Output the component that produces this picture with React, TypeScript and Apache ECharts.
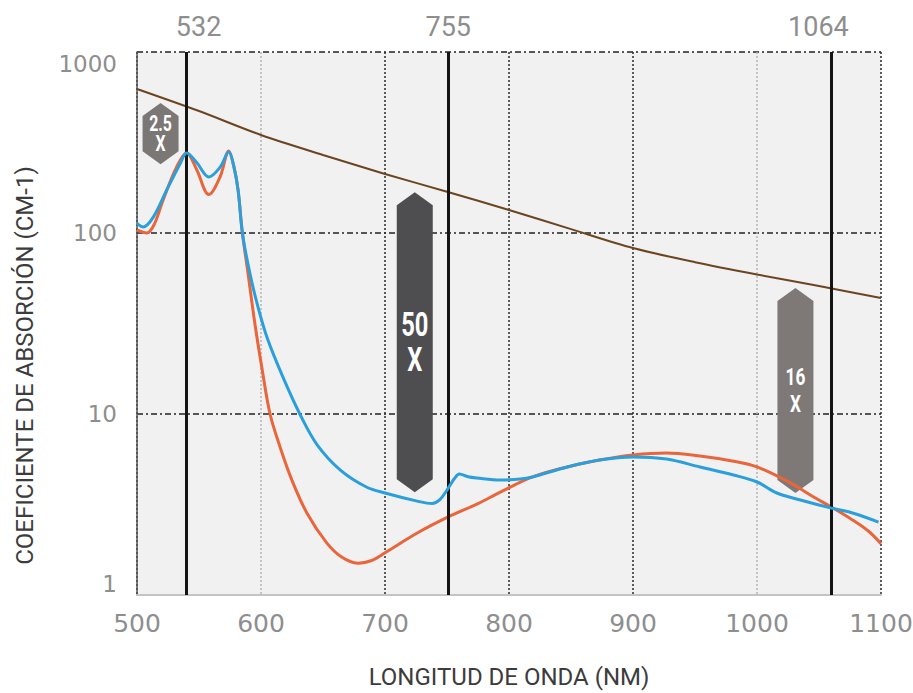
import React, { useEffect, useRef } from "react";
import * as echarts from "echarts";

// ---- data ----
const X_TICKS = [500, 600, 700, 800, 900, 1000, 1100];
const Y_TICKS = [1, 10, 100, 1000];

const ORANGE_NM = [500, 508, 514, 521, 532, 540, 548, 558, 567, 574, 578, 581.5, 585, 589.5, 595, 601, 607.3, 615.3, 625, 637, 653, 665, 678, 690, 700, 726, 751, 775, 793, 819, 847, 873, 900, 927, 954, 980, 1000, 1027, 1045, 1060, 1077, 1090, 1100];
const ORANGE_VAL = [104, 100, 112, 152, 232, 277, 225, 163, 204, 284, 235, 173, 100, 60, 31.8, 17.5, 10.0, 6.6, 4.3, 2.84, 1.94, 1.62, 1.5, 1.56, 1.71, 2.2, 2.7, 3.2, 3.7, 4.49, 5.1, 5.57, 5.94, 6.09, 5.86, 5.5, 5.1, 4.16, 3.5, 3.06, 2.6, 2.25, 1.92];

const BLUE_NM = [500, 505, 513, 524, 535, 540, 548, 558, 567, 574, 578, 581.5, 585, 591, 597.6, 605.6, 617, 631, 645, 664, 685, 700, 726, 738, 744, 750, 756, 760, 767, 774, 793, 809, 819, 847, 873, 900, 927, 954, 981, 1000, 1016, 1035, 1060, 1077, 1098];
const BLUE_VAL = [113, 108, 122, 173, 243, 277, 246, 204, 231, 280, 235, 173, 100, 60, 39, 25.6, 16.4, 10.1, 6.8, 4.9, 3.95, 3.66, 3.3, 3.2, 3.35, 3.8, 4.4, 4.66, 4.5, 4.43, 4.32, 4.37, 4.49, 5.1, 5.57, 5.79, 5.64, 5.1, 4.6, 4.21, 3.66, 3.35, 3.02, 2.84, 2.53];

const BROWN_NM = [500, 550, 600, 650, 700, 750, 800, 850, 900, 950, 1000, 1050, 1100];
const BROWN_VAL = [625, 472, 348, 270, 212, 169, 134, 105, 82.6, 69, 59, 51, 43.7];

const LASER_NM = [540, 751, 1060];
const LASER_LABELS = ["532", "755", "1064"];

const BADGE_NM = [519, 724, 1031];
const BADGE_TOP = [523, 168, 49.7];
const BADGE_BOTTOM = [240, 3.7, 3.66];
const BADGE_TEXT = ["2.5\nX", "50\nX", "16\nX"];

// ---- styles ----
const LASER_LABEL_SHIFT = [12, 0, -13];
const BADGE_COLORS = ["#7b7775", "#4e4e50", "#7e7977"];
const BADGE_FONT = [22, 33, 24];
const BADGE_LINE = [20, 35, 27];
const BADGE_HALF_WIDTH = 18;
const BADGE_SHOULDER = 13;
const TICK_GRAY = "#8e8e8e";

function pairs(xs: number[], ys: number[]) {
  return xs.map((x, i) => [x, ys[i]]);
}

export default function App() {
  const ref = useRef<HTMLDivElement>(null);
  useEffect(() => {
    const chart = echarts.init(ref.current!, null, { renderer: "svg" });
    const xLineColors = X_TICKS.map((t) => (t === 600 || t === 1000 ? "#b4b4b4" : "#2a2a2a"));
    const option: any = {
      animation: false,
      backgroundColor: "#ffffff",
      grid: {
        left: 137,
        right: 32,
        top: 52,
        bottom: 98,
        show: true,
        backgroundColor: "#f1f1f2",
        borderWidth: 0,
        containLabel: false,
        outerBoundsMode: "none",
      },
      xAxis: {
        type: "value",
        min: X_TICKS[0],
        max: X_TICKS[X_TICKS.length - 1],
        interval: 100,
        name: "LONGITUD DE ONDA (NM)",
        nameLocation: "middle",
        nameGap: 70,
        nameTextStyle: { fontFamily: "Roboto", fontSize: 24, color: "#3c3c3c" },
        axisLine: { show: true, lineStyle: { color: "#c4c4c4", width: 2 } },
        axisTick: { show: false },
        axisLabel: {
          fontFamily: "DejaVu Sans",
          fontSize: 25,
          color: TICK_GRAY,
          margin: 16,
          formatter: (v: number) => String(v),
        },
        splitLine: { show: true, lineStyle: { color: xLineColors, width: 1.5, type: [2, 2] } },
      },
      yAxis: {
        type: "log",
        logBase: 10,
        min: Y_TICKS[0],
        max: Y_TICKS[Y_TICKS.length - 1],
        name: "COEFICIENTE DE ABSORCIÓN (CM-1)",
        nameLocation: "middle",
        nameGap: 100,
        nameTextStyle: { fontFamily: "Roboto", fontSize: 24, color: "#3c3c3c", padding: [0, 84, 0, 0] },
        axisLine: { show: true, lineStyle: { color: "#555555", width: 1.5 } },
        axisTick: { show: false },
        axisLabel: {
          fontFamily: "DejaVu Sans",
          fontSize: 23,
          color: TICK_GRAY,
          margin: 20,
          formatter: (v: number) => String(Math.round(v)),
          verticalAlignMinLabel: "bottom",
          verticalAlignMaxLabel: "top",
        },
        splitLine: { show: true, lineStyle: { color: "#222222", width: 1.5, type: [6, 3, 2, 3] } },
      },
      series: [
        {
          type: "custom",
          name: "badges",
          coordinateSystem: "cartesian2d",
          z: 1,
          silent: true,
          clip: false,
          encode: { x: 0, y: [1, 2] },
          data: BADGE_NM.map((v, i) => [v, BADGE_TOP[i], BADGE_BOTTOM[i]]),
          renderItem: (params: any, api: any) => {
            const i = params.dataIndex;
            const top = api.coord([api.value(0), api.value(1)]);
            const bot = api.coord([api.value(0), api.value(2)]);
            const cx = top[0];
            const hw = BADGE_HALF_WIDTH;
            const s = BADGE_SHOULDER;
            return {
              type: "group",
              children: [
                {
                  type: "polygon",
                  shape: {
                    points: [
                      [cx, top[1]],
                      [cx + hw, top[1] + s],
                      [cx + hw, bot[1] - s],
                      [cx, bot[1]],
                      [cx - hw, bot[1] - s],
                      [cx - hw, top[1] + s],
                    ],
                  },
                  style: { fill: BADGE_COLORS[i] },
                },
                {
                  type: "text",
                  x: cx,
                  y: (top[1] + bot[1]) / 2,
                  scaleX: 0.72,
                  style: {
                    text: BADGE_TEXT[i],
                    fill: "#ffffff",
                    fontSize: BADGE_FONT[i],
                    lineHeight: BADGE_LINE[i],
                    fontFamily: "Roboto",
                    fontWeight: "bold",
                    align: "center",
                    verticalAlign: "middle",
                  },
                },
              ],
            };
          },
        },
        {
          type: "line",
          name: "brown",
          z: 3,
          data: pairs(BROWN_NM, BROWN_VAL),
          showSymbol: false,
          smooth: 0.3,
          lineStyle: { color: "#6b4520", width: 2 },
          silent: true,
        },
        {
          type: "line",
          name: "orange",
          z: 4,
          data: pairs(ORANGE_NM, ORANGE_VAL),
          showSymbol: false,
          smooth: 0.35,
          lineStyle: { color: "#e9653b", width: 3 },
          silent: true,
          markLine: {
            silent: true,
            symbol: ["none", "none"],
            lineStyle: { color: "#141414", width: 3, type: "solid" },
            label: {
              show: true,
              position: "end",
              distance: 12,
              fontFamily: "Roboto",
              fontSize: 27,
              color: TICK_GRAY,
            },
            emphasis: { disabled: true },
            data: LASER_NM.map((v, i) => {
              const sh = LASER_LABEL_SHIFT[i];
              return {
                xAxis: v,
                label: {
                  formatter: LASER_LABELS[i],
                  padding: sh >= 0 ? [0, 0, 0, 2 * sh] : [0, -2 * sh, 0, 0],
                },
              };
            }),
          },
        },
        {
          type: "line",
          name: "blue",
          z: 5,
          data: pairs(BLUE_NM, BLUE_VAL),
          showSymbol: false,
          smooth: 0.35,
          lineStyle: { color: "#2a9fdb", width: 3 },
          silent: true,
        },
      ],
    };
    chart.setOption(option);
    return () => chart.dispose();
  }, []);
  return <div ref={ref} style={{ position: "fixed", left: 0, top: 0, width: 913, height: 693 }} />;
}
